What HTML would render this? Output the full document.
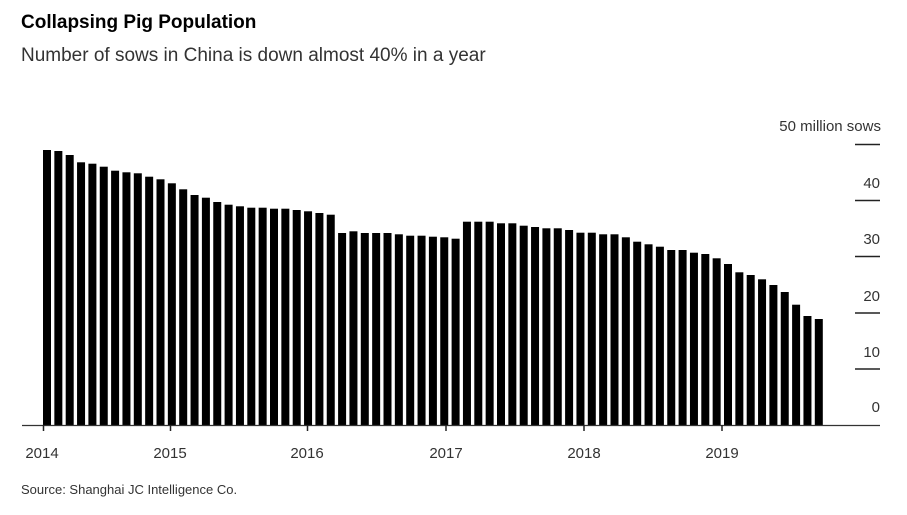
<!DOCTYPE html>
<html><head><meta charset="utf-8"><style>
body{margin:0;background:#fff;width:907px;height:510px;overflow:hidden;font-family:"Liberation Sans",sans-serif}
</style></head><body>
<svg width="907" height="510" xmlns="http://www.w3.org/2000/svg" font-family="Liberation Sans, sans-serif">
<text x="21" y="28" font-size="19" font-weight="bold" fill="#000">Collapsing Pig Population</text>
<text x="21" y="61" font-size="19" fill="#333">Number of sows in China is down almost 40% in a year</text>
<g id="bars"></g>
<line x1="22" y1="425.5" x2="880" y2="425.5" stroke="#333" stroke-width="1.3"/>
<g stroke="#222" stroke-width="1.5">
<line x1="855" y1="144.5" x2="880" y2="144.5"/>
<line x1="855" y1="200.5" x2="880" y2="200.5"/>
<line x1="855" y1="256.5" x2="880" y2="256.5"/>
<line x1="855" y1="313" x2="880" y2="313"/>
<line x1="855" y1="369" x2="880" y2="369"/>
<line x1="43.5" y1="425" x2="43.5" y2="431"/>
<line x1="170.5" y1="425" x2="170.5" y2="431"/>
<line x1="307.5" y1="425" x2="307.5" y2="431"/>
<line x1="446" y1="425" x2="446" y2="431"/>
<line x1="584" y1="425" x2="584" y2="431"/>
<line x1="722" y1="425" x2="722" y2="431"/>
</g>
<g font-size="15" fill="#333" text-anchor="end">
<text x="881" y="131">50 million sows</text>
<text x="880" y="188">40</text>
<text x="880" y="244">30</text>
<text x="880" y="301">20</text>
<text x="880" y="357">10</text>
<text x="880" y="412">0</text>
</g>
<g font-size="15" fill="#333" text-anchor="middle">
<text x="42" y="458">2014</text>
<text x="170" y="458">2015</text>
<text x="307" y="458">2016</text>
<text x="446" y="458">2017</text>
<text x="584" y="458">2018</text>
<text x="722" y="458">2019</text>
</g>
<text x="21" y="494" font-size="13" fill="#333">Source: Shanghai JC Intelligence Co.</text>
</svg>
<script>
var z1=[60,63,75,97,101,110,122,127,130,140,148,160,178,195,203,216,224,229,233,233,236,236,240,244,249,254,309,304,309,309,309,313,317,317,320];
var z2=[382,386,335,335,335,340,340,347,351,355,355,360,368,368,373,373,382,395,403,410,420,420,428,432,445,462,487,495,508,525,546,584,618,627];
var tops=z1.map(function(v){return 130+v/3}).concat(z2.map(function(v){return 110+v/3}));
var g=document.getElementById('bars'),s='';
for(var i=0;i<tops.length;i++){var x=43+i*11.35;s+='<rect x="'+x.toFixed(2)+'" y="'+tops[i].toFixed(1)+'" width="8" height="'+(425.5-tops[i]).toFixed(1)+'" fill="#000"/>';}
g.innerHTML=s;
</script>
</body></html>
